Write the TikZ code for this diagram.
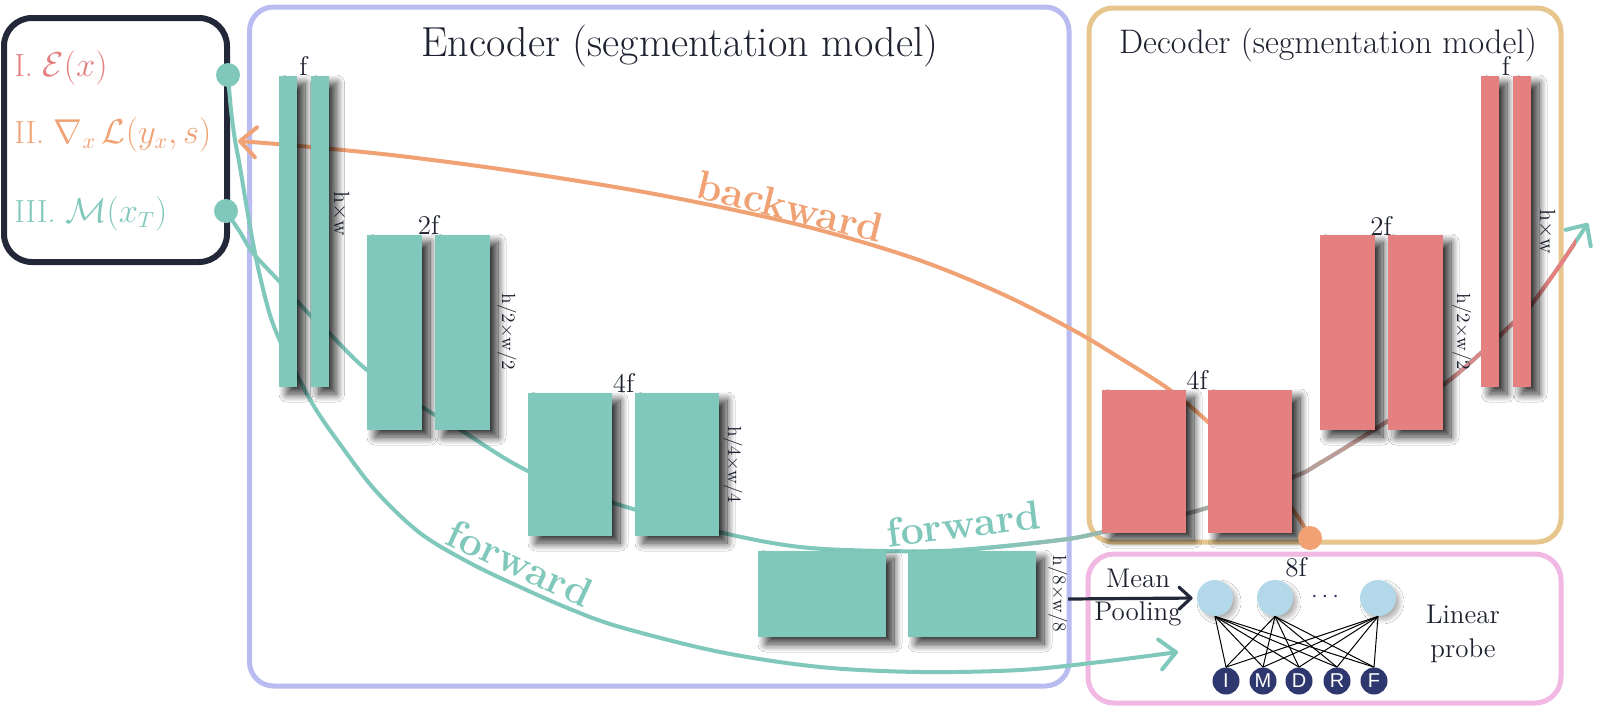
\documentclass[tikz,border=0pt]{standalone}
\usepackage{fontspec}
\usepackage{amsmath}
\usetikzlibrary{arrows.meta,shadows.blur}
\newfontfamily\arialf{Liberation Sans}
\definecolor{tealc}{HTML}{80C8BC}
\definecolor{redc}{HTML}{E48080}
\definecolor{orangec}{HTML}{F0A274}
\definecolor{lavc}{HTML}{B8BCF0}
\definecolor{tanc}{HTML}{E6C68C}
\definecolor{pinkc}{HTML}{F0B8E2}
\definecolor{navyc}{HTML}{232838}
\definecolor{lbluec}{HTML}{B3D8EA}
\definecolor{dnavyc}{HTML}{2E376E}
\definecolor{txtc}{HTML}{1E2230}
\newcommand\myfs[1]{\fontsize{#1}{#1}\selectfont}
\newcommand\fwdcurve[1]{\draw[#1] plot[smooth,tension=0.55] coordinates {(dotB) (240,232) (253,253) (279,281) (310,315) (330,334) (367,370) (422,407) (459,429) (528,471) (620,505) (719,532) (800,547) (887,551) (960,550) (1060,540) (1103,532) (1200,510) (1293,477) (1320,463) (1380,426) (1443,385) (1481,353) (1513,323) (1531,305) (1560,265) (outtip)};}
\tikzset{
  blk/.style={rectangle, inner sep=0pt, outer sep=0pt, draw=none,
    blur shadow={shadow xshift=4pt, shadow yshift=-3.5pt, shadow blur radius=4pt, shadow blur steps=20, shadow opacity=80}},
  tblk/.style={blk, fill=tealc},
  rblk/.style={blk, fill=redc},
  chlab/.style={inner sep=0pt, anchor=south, font=\myfs{13.5}, text=txtc},
  dimlab/.style={inner sep=0pt, anchor=south, rotate=-90, font=\myfs{9.5}, text=txtc},
  flow/.style={line width=2pt, line cap=round},
  barb/.style={-{Straight Barb[length=8pt,width=15pt,round]}},
  panel/.style={rectangle, inner sep=0pt, line width=2.5pt, rounded corners=12pt},
  dot/.style={circle, inner sep=0pt, minimum size=12pt},
  neur/.style={circle, fill=lbluec, inner sep=0pt, minimum size=18pt,
    blur shadow={shadow xshift=2pt, shadow yshift=-2pt, shadow blur radius=2pt, shadow blur steps=12, shadow opacity=30}},
  cls/.style={circle, fill=dnavyc, inner sep=0pt, minimum size=13.5pt, text=white, font=\arialf\myfs{10}},
  flowlab/.style={font=\bfseries\myfs{20.5}, inner sep=0pt, anchor=base},
  item/.style={anchor=base west, inner sep=0pt, font=\myfs{16}},
  plain/.style={inner sep=0pt, anchor=base, font=\myfs{13.5}, text=txtc},
}
\begin{document}
\begin{tikzpicture}[x=0.5pt,y=-0.5pt]
\useasboundingbox (0,0) rectangle (1600,707);
\fill[white] (0,0) rectangle (1600,707);

% panels
\node[panel, draw=navyc, line width=3pt, rounded corners=14pt, minimum width=111.5pt, minimum height=122pt] (inbox) at (115.5,140) {};
\node[panel, draw=lavc, minimum width=409.75pt, minimum height=339.5pt] (encbox) at (659.25,346.5) {};
\node[panel, draw=tanc, minimum width=236pt, minimum height=267pt] (decbox) at (1325,275) {};
\node[panel, draw=pinkc, minimum width=236.5pt, minimum height=74.5pt, rounded corners=13pt] (probebox) at (1324.5,628.5) {};

% titles
\node[anchor=base, font=\myfs{21}, text=txtc, inner sep=0pt] (enctitle) at (680,56) {Encoder (segmentation model)};
\node[anchor=base, font=\myfs{17}, text=txtc, inner sep=0pt] (dectitle) at (1328,53) {Decoder (segmentation model)};

% input items
\node[item, text=redc] (itemI) at (14,76) {I. $\mathcal{E}(x)$};
\node[item, text=orangec] (itemII) at (14,143) {II. $\nabla_x\,\mathcal{L}(y_x, s)$};
\node[item, text=tealc] (itemIII) at (14,222) {III. $\mathcal{M}(x_T)$};

% anchor coordinates
\coordinate (dotA) at (228,75);
\coordinate (dotB) at (226,211);
\coordinate (dotC) at (1310,538);
\coordinate (probein) at (1178,652);
\coordinate (outtip) at (1588,223);
\coordinate (bwtip) at (238,141);
\coordinate (mpstart) at (1068,599);

% curves
\draw[flow, tealc, barb] plot[smooth,tension=0.55] coordinates {(dotA) (231,110) (235,140) (240,167) (248,215) (257,263) (270,315) (284,350) (297,375) (315,408) (337,440) (375,490) (420,533) (470,563) (520,587) (570,609) (620,627) (720,652) (820,667) (920,672) (1020,670) (1100,662) (probein)};
\fwdcurve{flow, tealc, barb}
\foreach \i in {0,...,23}{
  \pgfmathsetmacro\xa{960+25.625*\i}
  \pgfmathsetmacro\xb{\xa+26.5}
  \pgfmathtruncatemacro\pct{100-100*\i/23}
  \begin{scope}
    \clip (\xa,0) rectangle (\xb,707);
    \fwdcurve{flow, color=tealc!\pct!redc}
  \end{scope}
}
\draw[flow, orangec, barb] plot[smooth,tension=0.55] coordinates {(dotC) (1293,510) (1250,463) (1208,422) (1170,390) (1120,358) (1073,330) (1000,293) (913,258) (800,225) (660,195) (520,172) (400,156) (300,146) (bwtip)};

% encoder blocks
\node[tblk, minimum width=9pt, minimum height=155.5pt] (e1a) at (288,231.5) {};
\node[tblk, minimum width=9pt, minimum height=155.5pt] (e1b) at (319.5,231.5) {};
\node[tblk, minimum width=27.5pt, minimum height=97.5pt] (e2a) at (394.5,332.5) {};
\node[tblk, minimum width=27.5pt, minimum height=97.5pt] (e2b) at (462.5,332.5) {};
\node[tblk, minimum width=42pt, minimum height=71.5pt] (e3a) at (570,464.5) {};
\node[tblk, minimum width=42pt, minimum height=71.5pt] (e3b) at (677,464.5) {};
\node[tblk, minimum width=64pt, minimum height=43pt] (e4a) at (822,594) {};
\node[tblk, minimum width=64pt, minimum height=43pt] (e4b) at (972,594) {};
% decoder blocks
\node[rblk, minimum width=42pt, minimum height=71.5pt] (d3a) at (1144,461.5) {};
\node[rblk, minimum width=42pt, minimum height=71.5pt] (d3b) at (1250,461.5) {};
\node[rblk, minimum width=27.5pt, minimum height=97.5pt] (d2a) at (1347.5,332.5) {};
\node[rblk, minimum width=27.5pt, minimum height=97.5pt] (d2b) at (1415.5,332.5) {};
\node[rblk, minimum width=9pt, minimum height=155.5pt] (d1a) at (1490,231.5) {};
\node[rblk, minimum width=9pt, minimum height=155.5pt] (d1b) at (1522,231.5) {};

% channel labels
\node[chlab] (le1) at (303.5,76) {f};
\node[chlab] (le2) at (428.5,235) {2f};
\node[chlab] (le3) at (623.5,393) {4f};
\node[chlab] (ld3) at (1197,390) {4f};
\node[chlab] (ld2) at (1381,236) {2f};
\node[chlab] (ld1) at (1506,76) {f};
% size labels
\node[dimlab, font=\myfs{11}] (de1) at (332,214) {h$\times$w};
\node[dimlab] (de2) at (497,332) {h/2$\times$w/2};
\node[dimlab] (de3) at (723,465) {h/4$\times$w/4};
\node[dimlab] (de4) at (1048,594) {h/8$\times$w/8};
\node[dimlab] (dd2) at (1452,332) {h/2$\times$w/2};
\node[dimlab, font=\myfs{11}] (dd1) at (1538,232) {h$\times$w};

% linear probe
\node[neur] (n1) at (1215,598) {};
\node[neur] (n2) at (1275,598) {};
\node[neur] (n3) at (1378,598) {};
\node[text=dnavyc, font=\myfs{13}, inner sep=0pt] (ndots) at (1327,597) {$\cdots$};
\node[chlab] (lab8f) at (1296,577) {8f};
\foreach \n/\x/\t in {c1/1226/I, c2/1263/M, c3/1299/D, c4/1337/R, c5/1374/F}
  \node[cls] (\n) at (\x,681) {\t};
\foreach \a in {n1,n2,n3}
  \foreach \b in {c1,c2,c3,c4,c5}
    \draw[line width=0.5pt, black] (\a.south) -- (\b.north);
\draw[line width=1.6pt, navyc, -{Straight Barb[length=6pt,width=11pt,round]}, shorten >=2pt] (mpstart) -- (n1.west);
\node[plain] (mean) at (1138,587) {Mean};
\node[plain] (pool) at (1138,620) {Pooling};
\node[plain] (lin) at (1463,623) {Linear};
\node[plain] (prb) at (1463,657) {probe};

% dots
\node[dot, fill=tealc] (dA) at (dotA) {};
\node[dot, fill=tealc] (dB) at (dotB) {};
\node[dot, fill=orangec] (dC) at (dotC) {};

% flow labels
\node[flowlab, text=orangec, rotate=-13.7] (bwlab) at (787,220) {backward};
\node[flowlab, text=tealc, rotate=-25] (fwlab1) at (514,576) {forward};
\node[flowlab, text=tealc, rotate=7] (fwlab2) at (965,538) {forward};
\end{tikzpicture}
\end{document}
